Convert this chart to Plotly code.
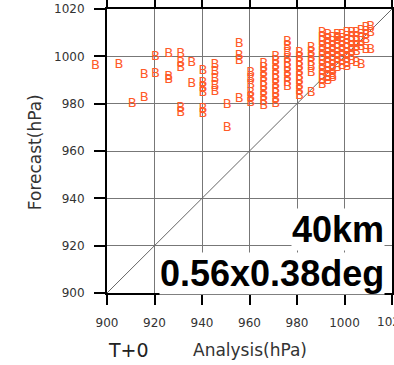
import plotly.graph_objects as go

# Analysis (x) and Forecast (y) central pressure values, hPa
analysis = [
    895.3, 905.0, 910.6, 915.7, 915.7, 920.4, 920.4, 926.0, 926.0, 926.0,
    931.0, 931.0, 931.0, 935.7, 935.7, 931.0, 931.0,
    940.4, 940.4, 940.4, 940.4, 940.4, 940.4,
    945.5, 945.5, 945.5, 945.5, 945.5,
    950.6, 950.6,
    955.7, 955.7, 955.7, 955.7,
    960.5, 960.5, 960.5, 960.5, 960.5, 960.5,
    966, 966, 966, 966, 966, 966, 966, 966, 966, 966,
    971, 971, 971, 971, 971, 971, 971, 971, 971, 971, 971,
    976, 976, 976, 976, 976, 976, 976, 976, 976, 976,
    981, 981, 981, 981, 981, 981, 981, 981, 981, 981,
    986, 986, 986, 986, 986, 986, 986,
    990.6, 990.6, 990.6, 990.6, 990.6, 990.6, 990.6, 990.6, 990.6, 990.6, 990.6, 990.6,
    993, 993, 993, 993, 993, 993, 993, 993, 993, 993, 993,
    995, 995, 995, 995, 995, 995, 995, 995, 995, 995,
    997, 997, 997, 997, 997, 997, 997, 997, 997,
    999, 999, 999, 999, 999, 999, 999,
    1001, 1001, 1001, 1001, 1001, 1001, 1001, 1001,
    1003, 1003, 1003, 1003, 1003, 1003, 1003,
    1005, 1005, 1005, 1005, 1005, 1005,
    1007, 1007, 1007, 1007, 1007,
    1009, 1009, 1009, 1009,
    1011, 1011, 1011,
    1012.8,
]
forecast = [
    996.6, 996.6, 980.0, 982.6, 992.3, 992.8, 1000.0, 1000.9, 991.5, 990.0,
    1000.9, 997.4, 995.3, 997.4, 988.5, 978.3, 976.2,
    994.0, 989.0, 986.8, 984.7, 977.9, 975.7,
    996.5, 993.5, 990.5, 987.5, 985.0,
    979.6, 969.8,
    1005.5, 1000.4, 998.3, 982.1,
    993.0, 990.5, 988.0, 984.5, 982.5, 980.5,
    997, 995, 993, 991, 989, 987, 985, 983, 981, 979,
    1000, 998, 996, 994, 992, 990, 988, 986, 984, 982, 980,
    1006, 1004, 1001.5, 999, 997, 995, 993, 991, 989, 987,
    1001.5, 999.5, 997.5, 995.5, 993.5, 991.5, 989.5, 987.5, 985.5, 983.5,
    1003.5, 1001.5, 999.5, 997.5, 995.5, 993, 984.5,
    1010, 1008, 1006, 1004, 1002, 1000, 998, 996, 994, 992, 990, 988,
    1009, 1007, 1005, 1003, 1001, 999, 997, 995, 993, 991, 989.5,
    1008, 1006, 1004, 1002, 1000, 998, 996, 994, 992, 991,
    1009, 1007, 1005, 1003, 1001, 999, 997, 995,
    1008, 1006, 1004, 1002, 1000, 998, 996,
    1009, 1007, 1005, 1003, 1001, 999, 997, 995.5,
    1010, 1008, 1006, 1004, 1002, 1000, 998,
    1009.8, 1008, 1006, 1004, 1002, 997.4,
    1010, 1008, 1006, 1004, 996.6,
    1011, 1009, 1007, 1002.6,
    1012, 1010, 1002.6,
    1012.3,
]
diag = [900, 1020]
ticks = [900, 920, 940, 960, 980, 1000, 1020]
tick_labels = ["900", "920", "940", "960", "980", "1000", "1020"]
AX_MIN, AX_MAX = 900, 1020
MARK = "B"
MARK_COLOR = "#ff5a28"
MARK_FONT = dict(family="DejaVu Sans", size=13, color=MARK_COLOR)

inside = [(a, f) for a, f in zip(analysis, forecast) if a >= AX_MIN]
outside = [(a, f) for a, f in zip(analysis, forecast) if a < AX_MIN]

fig = go.Figure()
fig.add_trace(go.Scatter(x=diag, y=diag, mode="lines",
                         line=dict(color="#666666", width=1), hoverinfo="skip"))
fig.add_trace(go.Scatter(x=[p[0] for p in inside], y=[p[1] for p in inside],
                         mode="text", text=[MARK] * len(inside),
                         textfont=MARK_FONT, cliponaxis=False))
# points lying left of the axis range are still drawn in the original (not clipped);
# plotly hides data-referenced annotations outside the range, so map x to paper fraction
for a, f in outside:
    fig.add_annotation(x=(a - AX_MIN) / (AX_MAX - AX_MIN), xref="paper", y=f, yref="y",
                       text=MARK, showarrow=False, xanchor="center", yanchor="middle",
                       font=MARK_FONT)

axis_common = dict(range=[AX_MIN, AX_MAX], tickvals=ticks, ticktext=tick_labels,
                   showline=True, linewidth=2, linecolor="black", mirror="ticks",
                   ticks="outside", tickcolor="black", tickwidth=1.5, automargin=False,
                   showgrid=True, gridcolor="#777777", gridwidth=1, zeroline=False,
                   tickfont=dict(family="DejaVu Sans", size=12, color="#333333"))
fig.update_layout(
    width=394, height=365, showlegend=False,
    margin=dict(l=107, r=2, t=9, b=72),
    plot_bgcolor="white", paper_bgcolor="white",
    xaxis=dict(**axis_common, ticklen=10, ticklabelstandoff=8),
    yaxis=dict(**axis_common, ticklen=11, ticklabelstandoff=7),
)
# last x tick label, which runs off the right edge of the picture
fig.add_annotation(x=ticks[-1], xref="x", y=-0.102, yref="paper", xanchor="center", yanchor="middle",
                   text=tick_labels[-1], showarrow=False,
                   font=dict(family="DejaVu Sans", size=12, color="#333333"))
fig.add_annotation(xref="paper", yref="paper", x=0.975, y=0.222, xanchor="right", yanchor="middle",
                   text="<b>40km</b>", showarrow=False, bgcolor="white", borderpad=0,
                   font=dict(family="Liberation Sans", size=36, color="black"))
fig.add_annotation(xref="paper", yref="paper", x=0.975, y=0.07, xanchor="right", yanchor="middle",
                   text="<b>0.56x0.38deg</b>", showarrow=False, bgcolor="white", borderpad=0,
                   font=dict(family="Liberation Sans", size=36, color="black"))
fig.add_annotation(xref="paper", yref="paper", x=-0.2526, y=0.496, textangle=-90,
                   xanchor="center", yanchor="middle",
                   text="Forecast(hPa)", showarrow=False,
                   font=dict(family="DejaVu Sans", size=17, color="#333333"))
fig.add_annotation(xref="paper", yref="paper", x=0.502, y=-0.2007,
                   xanchor="center", yanchor="middle",
                   text="Analysis(hPa)", showarrow=False,
                   font=dict(family="DejaVu Sans", size=17, color="#333333"))
fig.add_annotation(xref="paper", yref="paper", x=0.0737, y=-0.2007,
                   xanchor="center", yanchor="middle",
                   text="T+0", showarrow=False,
                   font=dict(family="DejaVu Sans", size=19, color="#222222"))

fig.write_html("out.html")
